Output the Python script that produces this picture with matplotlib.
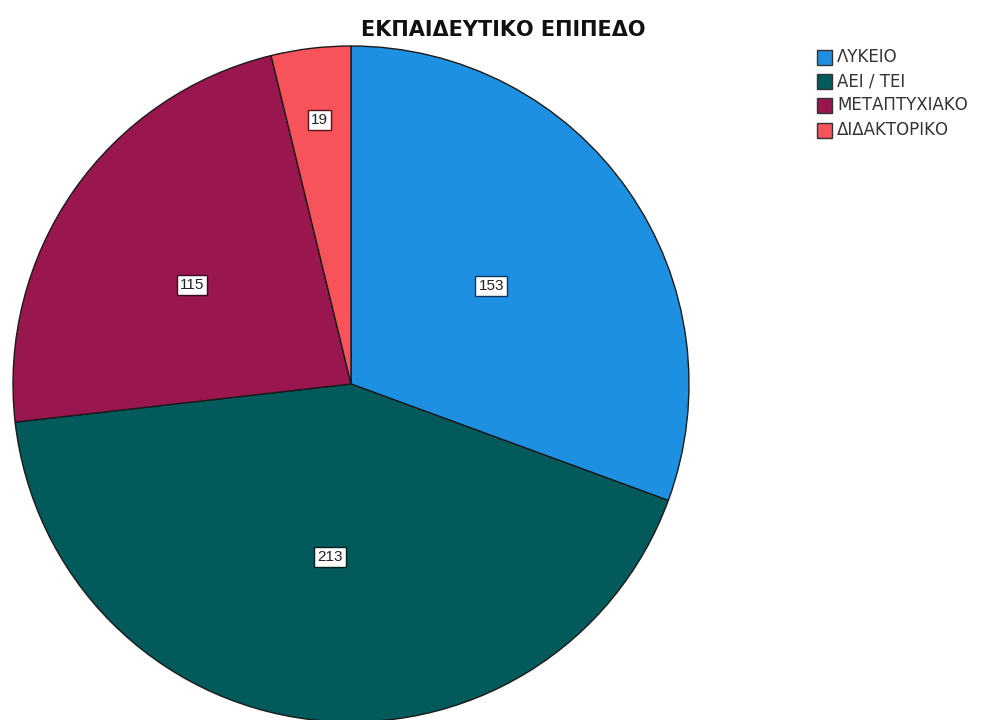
import numpy as np
import matplotlib.pyplot as plt
from matplotlib.patches import Rectangle

plt.rcParams['font.family'] = ['Liberation Sans', 'DejaVu Sans']

# Εκπαιδευτικό επίπεδο - πλήθος ανά κατηγορία
categories = ['ΛΥΚΕΙΟ', 'ΑΕΙ / ΤΕΙ', 'ΜΕΤΑΠΤΥΧΙΑΚΟ', 'ΔΙΔΑΚΤΟΡΙΚΟ']
counts = [153, 213, 115, 19]
colors = ['#1E90E2', '#025A5A', '#9A164E', '#F7535A']
box_edges = ['#0B3560', '#012020', '#3A0820', '#5A1018']
# θέση ετικέτας: απόσταση (κλάσμα ακτίνας) και μετατόπιση γωνίας σε μοίρες
label_dist = [0.506, 0.516, 0.554, 0.787]
label_shift = [0, 0, 3, 0]

W, H = 990, 720
fig = plt.figure(figsize=(W / 100, H / 100), dpi=100)

# κέντρο πίτας (351, 384) px, ακτίνα 338 px
cx, cy, r = 351, 384, 338
ax = fig.add_axes([(cx - r) / W, (H - cy - r) / H, 2 * r / W, 2 * r / H])

wedges, _ = ax.pie(counts, colors=colors, startangle=90, counterclock=False,
                   radius=1.0,
                   wedgeprops=dict(edgecolor='#1a1a1a', linewidth=1.0))
for w, n, ec, d, s in zip(wedges, counts, box_edges, label_dist, label_shift):
    mid = np.deg2rad((w.theta1 + w.theta2) / 2 + s)
    ax.text(d * np.cos(mid), d * np.sin(mid), str(n), ha='center', va='center',
            fontsize=11, color='#222222',
            bbox=dict(boxstyle='square,pad=0.2', facecolor='white',
                      edgecolor=ec, linewidth=1.0))
ax.set_xlim(-1, 1)
ax.set_ylim(-1, 1)
ax.set_aspect('equal')
ax.axis('off')

fig.text(503 / W, 1 - 30 / H, 'ΕΚΠΑΙΔΕΥΤΙΚΟ ΕΠΙΠΕΔΟ', ha='center', va='center',
         fontsize=15, fontweight='bold', color='#111111', family='DejaVu Sans')

# υπόμνημα
for i, (lab, c) in enumerate(zip(categories, colors)):
    yc = 57 + 24.2 * i
    fig.add_artist(Rectangle((817 / W, 1 - (yc + 8) / H), 15 / W, 15 / H,
                             transform=fig.transFigure, facecolor=c,
                             edgecolor='#333333', linewidth=1.0))
    fig.text(837 / W, 1 - yc / H, lab, ha='left', va='center',
             fontsize=12, color='#333333', family='DejaVu Sans')

fig.savefig('out.png', dpi=100)
